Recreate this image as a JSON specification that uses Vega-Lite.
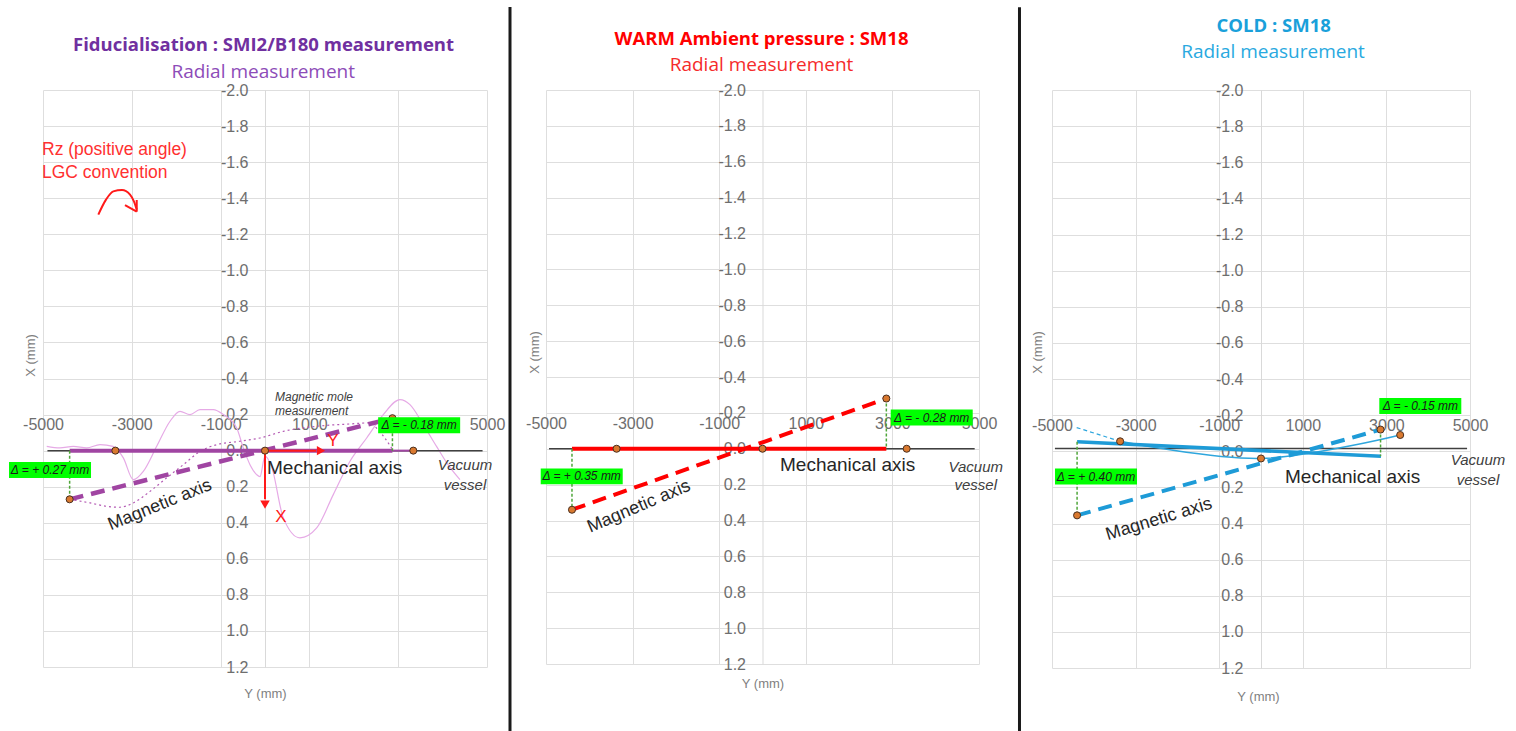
{
"$schema": "https://vega.github.io/schema/vega-lite/v6.json",
"width": 1516, "height": 731,
"autosize": {"type": "none"},
"padding": 0,
"datasets": {
"l1": [
{"s":"mole","x":-4916,"y":-0.024},{"s":"mole","x":-4617,"y":-0.015},{"s":"mole","x":-4317,"y":-0.024},{"s":"mole","x":-4015,"y":-0.015},{"s":"mole","x":-3716,"y":-0.033},{"s":"mole","x":-3423,"y":-0.024},{"s":"mole","x":-3191,"y":0.04},{"s":"mole","x":-2966,"y":0.161},{"s":"mole","x":-2741,"y":0.115},{"s":"mole","x":-2439,"y":-0.024},{"s":"mole","x":-2139,"y":-0.163},{"s":"mole","x":-1914,"y":-0.218},{"s":"mole","x":-1689,"y":-0.2},{"s":"mole","x":-1464,"y":-0.227},{"s":"mole","x":-1164,"y":-0.227},{"s":"mole","x":-939,"y":-0.2},{"s":"mole","x":-637,"y":-0.126},{"s":"mole","x":-489,"y":-0.015},{"s":"mole","x":-338,"y":0.078},{"s":"mole","x":-187,"y":0.133},{"s":"mole","x":-113,"y":0.144},{"s":"mole","x":0,"y":0.03},{"s":"mole","x":150,"y":0.09},{"s":"mole","x":412,"y":0.373},{"s":"mole","x":788,"y":0.484},{"s":"mole","x":1164,"y":0.429},{"s":"mole","x":1538,"y":0.244},{"s":"mole","x":1914,"y":0.059},{"s":"mole","x":2290,"y":-0.07},{"s":"mole","x":2664,"y":-0.2},{"s":"mole","x":3040,"y":-0.283},{"s":"mole","x":3265,"y":-0.255},{"s":"mole","x":3565,"y":-0.144},{"s":"mole","x":3867,"y":-0.022},{"s":"mole","x":4121,"y":0.078},{"s":"mole","x":4391,"y":0.161},
{"s":"fit","x":-4400,"y":0.27},{"s":"fit","x":-3941,"y":0.29},{"s":"fit","x":-3566,"y":0.309},{"s":"fit","x":-3265,"y":0.314},{"s":"fit","x":-2966,"y":0.29},{"s":"fit","x":-2590,"y":0.226},{"s":"fit","x":-2214,"y":0.151},{"s":"fit","x":-1840,"y":0.078},{"s":"fit","x":-1464,"y":0.004},{"s":"fit","x":-1088,"y":-0.033},{"s":"fit","x":-563,"y":-0.052},{"s":"fit","x":-113,"y":-0.07},{"s":"fit","x":412,"y":-0.107},{"s":"fit","x":1164,"y":-0.135},{"s":"fit","x":1914,"y":-0.148},{"s":"fit","x":2365,"y":-0.154},{"s":"fit","x":2515,"y":-0.124},{"s":"fit","x":2890,"y":0.0},
{"s":"vessel","x":-4900,"y":0},{"s":"vessel","x":4900,"y":0},
{"s":"thin","x":2870,"y":0},{"s":"thin","x":3340,"y":0},
{"s":"mech","x":-4400,"y":0},{"s":"mech","x":2870,"y":0},
{"s":"mag","x":-4400,"y":0.27},{"s":"mag","x":2870,"y":-0.18},
{"s":"rz","x":-3754,"y":-1.309},{"s":"rz","x":-3581,"y":-1.392},{"s":"rz","x":-3416,"y":-1.438},{"s":"rz","x":-3220,"y":-1.445},{"s":"rz","x":-3040,"y":-1.42},{"s":"rz","x":-2950,"y":-1.381},{"s":"rz","x":-2889,"y":-1.337}
],
"r1": [
{"k":"conn","x":-4400,"y":0,"x2":-4400,"y2":0.27},{"k":"conn","x":2870,"y":-0.18,"x2":2870,"y2":0},
{"k":"arr","x":0,"y":0,"x2":1150,"y2":0},{"k":"arr","x":0,"y":0,"x2":0,"y2":0.27},
{"k":"arr","x":-3153,"y":-1.362,"x2":-2889,"y2":-1.325},{"k":"arr","x":-2889,"y":-1.325,"x2":-2889,"y2":-1.39},
{"k":"sep","x":5518,"y":-2.46,"x2":5518,"y2":1.6}
],
"h1": [{"k":"yhead","x":1261,"y":0},{"k":"xhead","x":0,"y":0.3}],
"pt1": [{"x":-4400,"y":0.27},{"x":-3370,"y":0},{"x":0,"y":0},{"x":3340,"y":0},{"x":2870,"y":-0.18}],
"t1": [
{"k":"title","x":-34,"y":-2.25,"text":"Fiducialisation : SMI2/B180 measurement"},
{"k":"sub","x":-40,"y":-2.102,"text":"Radial measurement"},
{"k":"rz","x":-5022,"y":-1.669,"text":"Rz (positive angle)"},{"k":"rz","x":-5022,"y":-1.542,"text":"LGC convention"},
{"k":"mole","x":225,"y":-0.299,"text":"Magnetic mole"},{"k":"mole","x":225,"y":-0.22,"text":"measurement"},
{"k":"mech","x":45,"y":0.098,"text":"Mechanical axis"},
{"k":"vac","x":4504,"y":0.08,"text":"Vacuum"},{"k":"vac","x":4504,"y":0.19,"text":"vessel"},
{"k":"mag","x":-2365,"y":0.302,"text":"Magnetic axis"},
{"k":"ax","x":1531,"y":-0.053,"text":"Y"},{"k":"ax","x":360,"y":0.367,"text":"X"},
{"k":"delta","x":-4842,"y":0.108,"text":"Δ = + 0.27 mm"},{"k":"delta","x":3472,"y":-0.141,"text":"Δ = - 0.18 mm"}
],
"l2": [
{"s":"vessel","x":-4930,"y":0},{"s":"vessel","x":4900,"y":0},
{"s":"mech","x":-4400,"y":0},{"s":"mech","x":2860,"y":0},
{"s":"mag","x":-4400,"y":0.34},{"s":"mag","x":2860,"y":-0.28}
],
"r2": [
{"k":"conn","x":-4400,"y":0,"x2":-4400,"y2":0.34},{"k":"conn","x":2860,"y":-0.28,"x2":2860,"y2":0},
{"k":"sep","x":5935,"y":-2.462,"x2":5935,"y2":1.6}
],
"pt2": [{"x":-4400,"y":0.34},{"x":-3370,"y":0},{"x":0,"y":0},{"x":3330,"y":0},{"x":2860,"y":-0.28}],
"t2": [
{"k":"title","x":-23,"y":-2.284,"text":"WARM Ambient pressure : SM18"},
{"k":"sub","x":-23,"y":-2.14,"text":"Radial measurement"},
{"k":"mech","x":404,"y":0.091,"text":"Mechanical axis"},
{"k":"vac","x":4926,"y":0.1,"text":"Vacuum"},{"k":"vac","x":4926,"y":0.202,"text":"vessel"},
{"k":"mag","x":-2852,"y":0.323,"text":"Magnetic axis"},
{"k":"delta","x":-4175,"y":0.154,"text":"Δ = + 0.35 mm"},{"k":"delta","x":3908,"y":-0.174,"text":"Δ = - 0.28 mm"}
],
"l3": [
{"s":"vessel","x":-4930,"y":-0.015},{"s":"vessel","x":4930,"y":-0.015},
{"s":"ext","x":-4410,"y":-0.131},{"s":"ext","x":-3370,"y":-0.055},
{"s":"curve","x":-3370,"y":-0.055},{"s":"curve","x":0,"y":0.04},{"s":"curve","x":3330,"y":-0.09},
{"s":"mech","x":-4400,"y":-0.052},{"s":"mech","x":2870,"y":0.028},
{"s":"mag","x":-4400,"y":0.355},{"s":"mag","x":2860,"y":-0.12}
],
"r3": [{"k":"conn","x":-4400,"y":-0.052,"x2":-4400,"y2":0.355},{"k":"conn","x":2860,"y":-0.12,"x2":2860,"y2":0.028}],
"pt3": [{"x":-4400,"y":0.355},{"x":-3370,"y":-0.055},{"x":0,"y":0.04},{"x":3330,"y":-0.09},{"x":2860,"y":-0.12}],
"t3": [
{"k":"title","x":304,"y":-2.356,"text":"COLD : SM18"},
{"k":"sub","x":287,"y":-2.208,"text":"Radial measurement"},
{"k":"mech","x":574,"y":0.142,"text":"Mechanical axis"},
{"k":"vac","x":5191,"y":0.05,"text":"Vacuum"},{"k":"vac","x":5191,"y":0.16,"text":"vessel"},
{"k":"mag","x":-2440,"y":0.377,"text":"Magnetic axis"},
{"k":"delta","x":-3947,"y":0.14,"text":"Δ = + 0.40 mm"},{"k":"delta","x":3811,"y":-0.25,"text":"Δ = - 0.15 mm"}
]
},
"resolve": {"scale": {"x": "independent", "y": "independent"}},
"layer": [
{
"encoding": {
"x": {"field": "x", "type": "quantitative", "scale": {"domain": [-5000, 5000], "range": [43, 487], "nice": false, "zero": false},
"axis": {"orient": "top", "offset": -450.6, "values": [-5000,-3000,-1000,1000,3000,5000], "labelExpr": "replace(format(datum.value,'d'),'\u2212','-')", "ticks": false, "tickSize": 0, "domain": false, "grid": true, "gridColor": "#DEDEDE", "labelPadding": 18, "labelFontSize": 16, "labelColor": "#6E6E6E", "labelFlush": false, "labelOverlap": false, "labelBound": false, "title": "Y (mm)", "titleX": 265, "titleY": 242.4, "titleFontSize": 13, "titleFontWeight": "normal", "titleColor": "#7F7F7F", "titleBaseline": "middle", "titleAlign": "center", "titleAngle": 0}},
"y": {"field": "y", "type": "quantitative", "scale": {"domain": [-2, 1.2], "range": [90, 667], "nice": false, "zero": false},
"axis": {"orient": "left", "offset": -265, "values": [-2,-1.8,-1.6,-1.4,-1.2,-1,-0.8,-0.6,-0.4,-0.2,0,0.2,0.4,0.6,0.8,1,1.2], "labelExpr": "replace(format(datum.value,'.1f'),'\u2212','-')", "ticks": false, "tickSize": 0, "domain": true, "domainColor": "#D9D9D9", "grid": true, "gridColor": "#DEDEDE", "labelPadding": 17, "labelFontSize": 16, "labelColor": "#6E6E6E", "labelOverlap": false, "labelFlush": false, "labelBound": false, "title": "X (mm)", "titleX": -235, "titleY": 355, "titleAngle": -90, "titleFontSize": 13, "titleFontWeight": "normal", "titleColor": "#7F7F7F", "titleBaseline": "middle", "titleAlign": "center"}}
},
"layer": [
{"data": {"name": "l1"}, "transform": [{"filter": "datum.s === 'mole'"}], "mark": {"type": "line", "color": "#E6AAE6", "strokeWidth": 1.2, "interpolate": "monotone"}},
{"data": {"name": "l1"}, "transform": [{"filter": "datum.s === 'fit'"}], "mark": {"type": "line", "color": "#B45AB4", "strokeWidth": 1.2, "strokeDash": [2, 3], "interpolate": "monotone"}},
{"data": {"name": "l1"}, "transform": [{"filter": "datum.s === 'vessel'"}], "mark": {"type": "line", "color": "#404040", "strokeWidth": 1.5}},
{"data": {"name": "l1"}, "transform": [{"filter": "datum.s === 'thin'"}], "mark": {"type": "line", "color": "#A045A2", "strokeWidth": 2}},
{"data": {"name": "l1"}, "transform": [{"filter": "datum.s === 'mech'"}], "mark": {"type": "line", "color": "#A045A2", "strokeWidth": 4}},
{"data": {"name": "l1"}, "transform": [{"filter": "datum.s === 'mag'"}], "mark": {"type": "line", "color": "#A045A2", "strokeWidth": 4.5, "strokeDash": [14, 8]}},
{"data": {"name": "r1"}, "transform": [{"filter": "datum.k === 'conn'"}], "mark": {"type": "rule", "color": "#4FA63A", "strokeWidth": 1.5, "strokeDash": [3, 2]}, "encoding": {"x2": {"field": "x2"}, "y2": {"field": "y2"}}},
{"data": {"name": "r1"}, "transform": [{"filter": "datum.k === 'arr'"}], "mark": {"type": "rule", "color": "#FF1A1A", "strokeWidth": 2}, "encoding": {"x2": {"field": "x2"}, "y2": {"field": "y2"}}},
{"data": {"name": "l1"}, "transform": [{"filter": "datum.s === 'rz'"}], "mark": {"type": "line", "color": "#FF1A1A", "strokeWidth": 2, "interpolate": "monotone"}},
{"data": {"name": "h1"}, "transform": [{"filter": "datum.k === 'yhead'"}], "mark": {"type": "point", "shape": "triangle-right", "filled": true, "color": "#FF1A1A", "opacity": 1, "size": 90}},
{"data": {"name": "h1"}, "transform": [{"filter": "datum.k === 'xhead'"}], "mark": {"type": "point", "shape": "triangle-down", "filled": true, "color": "#FF1A1A", "opacity": 1, "size": 90}},
{"data": {"name": "pt1"}, "mark": {"type": "point", "filled": true, "color": "#D9792F", "stroke": "#4A3020", "strokeWidth": 1, "opacity": 1, "size": 50}},
{"data": {"name": "t1"}, "transform": [{"filter": "datum.k === 'delta'"}], "mark": {"type": "point", "shape": "M-1,-0.195H1V0.195H-1Z", "filled": true, "color": "#00FF00", "opacity": 1, "size": 6724}},
{"data": {"name": "t1"}, "transform": [{"filter": "datum.k === 'delta'"}], "mark": {"type": "text", "font": "Liberation Sans", "fontSize": 12, "fontStyle": "italic", "color": "#1A1A1A", "align": "center", "baseline": "middle"}, "encoding": {"text": {"field": "text"}}},
{"data": {"name": "t1"}, "transform": [{"filter": "datum.k === 'title'"}], "mark": {"type": "text", "font": "Open Sans", "fontSize": 18.5, "fontWeight": "bold", "color": "#7030A0", "align": "center", "baseline": "middle"}, "encoding": {"text": {"field": "text"}}},
{"data": {"name": "t1"}, "transform": [{"filter": "datum.k === 'sub'"}], "mark": {"type": "text", "font": "Open Sans", "fontSize": 19, "color": "#8D4CB8", "align": "center", "baseline": "middle"}, "encoding": {"text": {"field": "text"}}},
{"data": {"name": "t1"}, "transform": [{"filter": "datum.k === 'rz'"}], "mark": {"type": "text", "font": "Liberation Sans", "fontSize": 17.5, "color": "#FF3030", "align": "left", "baseline": "middle"}, "encoding": {"text": {"field": "text"}}},
{"data": {"name": "t1"}, "transform": [{"filter": "datum.k === 'mole'"}], "mark": {"type": "text", "font": "Liberation Sans", "fontSize": 12, "fontStyle": "italic", "color": "#404040", "align": "left", "baseline": "middle"}, "encoding": {"text": {"field": "text"}}},
{"data": {"name": "t1"}, "transform": [{"filter": "datum.k === 'mech'"}], "mark": {"type": "text", "font": "Liberation Sans", "fontSize": 19, "color": "#262626", "align": "left", "baseline": "middle"}, "encoding": {"text": {"field": "text"}}},
{"data": {"name": "t1"}, "transform": [{"filter": "datum.k === 'vac'"}], "mark": {"type": "text", "font": "Liberation Sans", "fontSize": 15, "fontStyle": "italic", "color": "#404040", "align": "center", "baseline": "middle"}, "encoding": {"text": {"field": "text"}}},
{"data": {"name": "t1"}, "transform": [{"filter": "datum.k === 'mag'"}], "mark": {"type": "text", "font": "Liberation Sans", "fontSize": 18, "color": "#262626", "align": "center", "baseline": "middle", "angle": 338}, "encoding": {"text": {"field": "text"}}},
{"data": {"name": "t1"}, "transform": [{"filter": "datum.k === 'ax'"}], "mark": {"type": "text", "font": "Liberation Sans", "fontSize": 17, "color": "#FF1A1A", "align": "center", "baseline": "middle"}, "encoding": {"text": {"field": "text"}}},
{"data": {"name": "r1"}, "transform": [{"filter": "datum.k === 'sep'"}], "mark": {"type": "rule", "color": "#1A1A1A", "strokeWidth": 3}, "encoding": {"x2": {"field": "x2"}, "y2": {"field": "y2"}}}
]
},
{
"encoding": {
"x": {"field": "x", "type": "quantitative", "scale": {"domain": [-5000, 5000], "range": [546, 979], "nice": false, "zero": false},
"axis": {"orient": "top", "offset": -448.7, "values": [-5000,-3000,-1000,1000,3000,5000], "labelExpr": "replace(format(datum.value,'d'),'\u2212','-')", "ticks": false, "tickSize": 0, "domain": false, "grid": true, "gridColor": "#DEDEDE", "labelPadding": 17, "labelFontSize": 16, "labelColor": "#6E6E6E", "labelFlush": false, "labelOverlap": false, "labelBound": false, "title": "Y (mm)", "titleX": 762.5, "titleY": 235, "titleFontSize": 13, "titleFontWeight": "normal", "titleColor": "#7F7F7F", "titleBaseline": "middle", "titleAlign": "center", "titleAngle": 0}},
"y": {"field": "y", "type": "quantitative", "scale": {"domain": [-2, 1.2], "range": [90, 664], "nice": false, "zero": false},
"axis": {"orient": "left", "offset": -762.5, "values": [-2,-1.8,-1.6,-1.4,-1.2,-1,-0.8,-0.6,-0.4,-0.2,0,0.2,0.4,0.6,0.8,1,1.2], "labelExpr": "replace(format(datum.value,'.1f'),'\u2212','-')", "ticks": false, "tickSize": 0, "domain": true, "domainColor": "#D9D9D9", "grid": true, "gridColor": "#DEDEDE", "labelPadding": 17, "labelFontSize": 16, "labelColor": "#6E6E6E", "labelOverlap": false, "labelFlush": false, "labelBound": false, "title": "X (mm)", "titleX": -228, "titleY": 352, "titleAngle": -90, "titleFontSize": 13, "titleFontWeight": "normal", "titleColor": "#7F7F7F", "titleBaseline": "middle", "titleAlign": "center"}}
},
"layer": [
{"data": {"name": "l2"}, "transform": [{"filter": "datum.s === 'vessel'"}], "mark": {"type": "line", "color": "#404040", "strokeWidth": 1.5}},
{"data": {"name": "l2"}, "transform": [{"filter": "datum.s === 'mech'"}], "mark": {"type": "line", "color": "#FF0000", "strokeWidth": 4}},
{"data": {"name": "l2"}, "transform": [{"filter": "datum.s === 'mag'"}], "mark": {"type": "line", "color": "#FF0000", "strokeWidth": 4, "strokeDash": [14, 8]}},
{"data": {"name": "r2"}, "transform": [{"filter": "datum.k === 'conn'"}], "mark": {"type": "rule", "color": "#4FA63A", "strokeWidth": 1.5, "strokeDash": [3, 2]}, "encoding": {"x2": {"field": "x2"}, "y2": {"field": "y2"}}},
{"data": {"name": "pt2"}, "mark": {"type": "point", "filled": true, "color": "#D9792F", "stroke": "#4A3020", "strokeWidth": 1, "opacity": 1, "size": 50}},
{"data": {"name": "t2"}, "transform": [{"filter": "datum.k === 'delta'"}], "mark": {"type": "point", "shape": "M-1,-0.195H1V0.195H-1Z", "filled": true, "color": "#00FF00", "opacity": 1, "size": 6724}},
{"data": {"name": "t2"}, "transform": [{"filter": "datum.k === 'delta'"}], "mark": {"type": "text", "font": "Liberation Sans", "fontSize": 12, "fontStyle": "italic", "color": "#1A1A1A", "align": "center", "baseline": "middle"}, "encoding": {"text": {"field": "text"}}},
{"data": {"name": "t2"}, "transform": [{"filter": "datum.k === 'title'"}], "mark": {"type": "text", "font": "Open Sans", "fontSize": 18.5, "fontWeight": "bold", "color": "#FF0000", "align": "center", "baseline": "middle"}, "encoding": {"text": {"field": "text"}}},
{"data": {"name": "t2"}, "transform": [{"filter": "datum.k === 'sub'"}], "mark": {"type": "text", "font": "Open Sans", "fontSize": 19, "color": "#F52B2B", "align": "center", "baseline": "middle"}, "encoding": {"text": {"field": "text"}}},
{"data": {"name": "t2"}, "transform": [{"filter": "datum.k === 'mech'"}], "mark": {"type": "text", "font": "Liberation Sans", "fontSize": 19, "color": "#262626", "align": "left", "baseline": "middle"}, "encoding": {"text": {"field": "text"}}},
{"data": {"name": "t2"}, "transform": [{"filter": "datum.k === 'vac'"}], "mark": {"type": "text", "font": "Liberation Sans", "fontSize": 15, "fontStyle": "italic", "color": "#404040", "align": "center", "baseline": "middle"}, "encoding": {"text": {"field": "text"}}},
{"data": {"name": "t2"}, "transform": [{"filter": "datum.k === 'mag'"}], "mark": {"type": "text", "font": "Liberation Sans", "fontSize": 18, "color": "#262626", "align": "center", "baseline": "middle", "angle": 337}, "encoding": {"text": {"field": "text"}}},
{"data": {"name": "r2"}, "transform": [{"filter": "datum.k === 'sep'"}], "mark": {"type": "rule", "color": "#1A1A1A", "strokeWidth": 3}, "encoding": {"x2": {"field": "x2"}, "y2": {"field": "y2"}}}
]
},
{
"encoding": {
"x": {"field": "x", "type": "quantitative", "scale": {"domain": [-5000, 5000], "range": [1052, 1470], "nice": false, "zero": false},
"axis": {"orient": "top", "offset": -451.25, "values": [-5000,-3000,-1000,1000,3000,5000], "labelExpr": "replace(format(datum.value,'d'),'\u2212','-')", "ticks": false, "tickSize": 0, "domain": false, "grid": true, "gridColor": "#DEDEDE", "labelPadding": 18, "labelFontSize": 16, "labelColor": "#6E6E6E", "labelFlush": false, "labelOverlap": false, "labelBound": false, "title": "Y (mm)", "titleX": 1258, "titleY": 245.7, "titleFontSize": 13, "titleFontWeight": "normal", "titleColor": "#7F7F7F", "titleBaseline": "middle", "titleAlign": "center", "titleAngle": 0}},
"y": {"field": "y", "type": "quantitative", "scale": {"domain": [-2, 1.2], "range": [90, 668], "nice": false, "zero": false},
"axis": {"orient": "left", "offset": -1261, "values": [-2,-1.8,-1.6,-1.4,-1.2,-1,-0.8,-0.6,-0.4,-0.2,0,0.2,0.4,0.6,0.8,1,1.2], "labelExpr": "replace(format(datum.value,'.1f'),'\u2212','-')", "ticks": false, "tickSize": 0, "domain": true, "domainColor": "#D9D9D9", "grid": true, "gridColor": "#DEDEDE", "labelPadding": 18, "labelFontSize": 16, "labelColor": "#6E6E6E", "labelOverlap": false, "labelFlush": false, "labelBound": false, "title": "X (mm)", "titleX": -224, "titleY": 352, "titleAngle": -90, "titleFontSize": 13, "titleFontWeight": "normal", "titleColor": "#7F7F7F", "titleBaseline": "middle", "titleAlign": "center"}}
},
"layer": [
{"data": {"name": "l3"}, "transform": [{"filter": "datum.s === 'vessel'"}], "mark": {"type": "line", "color": "#404040", "strokeWidth": 1.5}},
{"data": {"name": "l3"}, "transform": [{"filter": "datum.s === 'ext'"}], "mark": {"type": "line", "color": "#2EA6DD", "strokeWidth": 1.2, "strokeDash": [4, 3]}},
{"data": {"name": "l3"}, "transform": [{"filter": "datum.s === 'curve'"}], "mark": {"type": "line", "color": "#2EA6DD", "strokeWidth": 1.5, "interpolate": "catmull-rom"}},
{"data": {"name": "l3"}, "transform": [{"filter": "datum.s === 'mech'"}], "mark": {"type": "line", "color": "#1E9BD7", "strokeWidth": 3.5}},
{"data": {"name": "l3"}, "transform": [{"filter": "datum.s === 'mag'"}], "mark": {"type": "line", "color": "#1E9BD7", "strokeWidth": 4, "strokeDash": [14, 8]}},
{"data": {"name": "r3"}, "mark": {"type": "rule", "color": "#4FA63A", "strokeWidth": 1.5, "strokeDash": [3, 2]}, "encoding": {"x2": {"field": "x2"}, "y2": {"field": "y2"}}},
{"data": {"name": "pt3"}, "mark": {"type": "point", "filled": true, "color": "#D9792F", "stroke": "#4A3020", "strokeWidth": 1, "opacity": 1, "size": 50}},
{"data": {"name": "t3"}, "transform": [{"filter": "datum.k === 'delta'"}], "mark": {"type": "point", "shape": "M-1,-0.195H1V0.195H-1Z", "filled": true, "color": "#00FF00", "opacity": 1, "size": 6724}},
{"data": {"name": "t3"}, "transform": [{"filter": "datum.k === 'delta'"}], "mark": {"type": "text", "font": "Liberation Sans", "fontSize": 12, "fontStyle": "italic", "color": "#1A1A1A", "align": "center", "baseline": "middle"}, "encoding": {"text": {"field": "text"}}},
{"data": {"name": "t3"}, "transform": [{"filter": "datum.k === 'title'"}], "mark": {"type": "text", "font": "Open Sans", "fontSize": 18.5, "fontWeight": "bold", "color": "#1AA0DA", "align": "center", "baseline": "middle"}, "encoding": {"text": {"field": "text"}}},
{"data": {"name": "t3"}, "transform": [{"filter": "datum.k === 'sub'"}], "mark": {"type": "text", "font": "Open Sans", "fontSize": 19, "color": "#29A9E0", "align": "center", "baseline": "middle"}, "encoding": {"text": {"field": "text"}}},
{"data": {"name": "t3"}, "transform": [{"filter": "datum.k === 'mech'"}], "mark": {"type": "text", "font": "Liberation Sans", "fontSize": 19, "color": "#262626", "align": "left", "baseline": "middle"}, "encoding": {"text": {"field": "text"}}},
{"data": {"name": "t3"}, "transform": [{"filter": "datum.k === 'vac'"}], "mark": {"type": "text", "font": "Liberation Sans", "fontSize": 15, "fontStyle": "italic", "color": "#404040", "align": "center", "baseline": "middle"}, "encoding": {"text": {"field": "text"}}},
{"data": {"name": "t3"}, "transform": [{"filter": "datum.k === 'mag'"}], "mark": {"type": "text", "font": "Liberation Sans", "fontSize": 18, "color": "#262626", "align": "center", "baseline": "middle", "angle": 343}, "encoding": {"text": {"field": "text"}}}
]
}
],
"config": {
"view": {"stroke": null},
"axis": {"labelFont": "Liberation Sans", "titleFont": "Liberation Sans"},
"text": {"font": "Liberation Sans"}
}
}
